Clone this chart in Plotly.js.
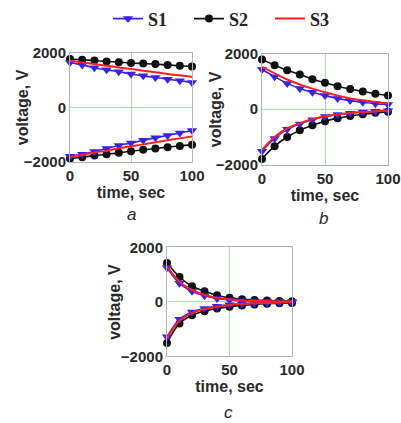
<!DOCTYPE html>
<html>
<head>
<meta charset="utf-8">
<script src="https://cdn.plot.ly/plotly-3.0.1.min.js"></script>
<style>
  html, body { margin: 0; padding: 0; background: #fff; }
  #chart { width: 401px; height: 423px; }
</style>
</head>
<body>
<div id="chart"></div>
<script>
// Sampling times, s
const time = [0, 10, 20, 30, 40, 50, 60, 70, 80, 90, 100];

// Panel a: positive and negative branches, V
const aS1Top = [1640, 1550, 1450, 1370, 1300, 1220, 1150, 1090, 1030, 970, 910];
const aS1Bot = [-1790, -1720, -1620, -1510, -1400, -1310, -1210, -1120, -1030, -940, -850];
const aS2Top = [1770, 1740, 1710, 1680, 1650, 1620, 1600, 1580, 1550, 1520, 1490];
const aS2Bot = [-1880, -1830, -1770, -1720, -1670, -1610, -1560, -1510, -1460, -1420, -1370];
const aS3Top = [1700, 1640, 1580, 1520, 1460, 1400, 1340, 1280, 1220, 1170, 1120];
const aS3Bot = [-1820, -1750, -1660, -1590, -1500, -1430, -1360, -1280, -1210, -1140, -1070];

// Panel b
const bS1Top = [1430, 1170, 930, 750, 610, 490, 390, 310, 250, 200, 170];
const bS1Bot = [-1510, -1050, -720, -530, -380, -260, -190, -140, -100, -75, -55];
const bS2Top = [1790, 1580, 1400, 1250, 1080, 950, 830, 730, 640, 560, 490];
const bS2Bot = [-1790, -1330, -1000, -760, -580, -430, -320, -240, -180, -130, -90];
const bS3Top = [1520, 1290, 1070, 890, 740, 610, 490, 390, 320, 260, 210];
const bS3Bot = [-1460, -1000, -690, -500, -360, -250, -185, -135, -100, -75, -55];

// Panel c
const cS1Top = [1250, 680, 390, 220, 120, 70, 45, 30, 20, 12, 8];
const cS1Bot = [-1280, -640, -370, -240, -160, -110, -75, -50, -35, -25, -15];
const cS2Top = [1420, 910, 570, 390, 245, 150, 100, 70, 50, 35, 25];
const cS2Bot = [-1510, -790, -490, -340, -240, -180, -130, -95, -70, -50, -40];
const cS3Top = [1300, 740, 440, 250, 140, 85, 50, 35, 25, 15, 10];
const cS3Bot = [-1330, -690, -410, -265, -175, -115, -80, -55, -40, -25, -15];

const panelLabels = ['a', 'b', 'c'];
const xTitle = 'time, sec';
const yTitle = 'voltage, V';
const tickX = [0, 50, 100];
const tickY = [-2000, 0, 2000];

const BLUE = '#3a22ee';
const BLACK = '#111111';
const RED = '#ff1f1f';
const TEXT = '#2a2a2a';

const styles = {
  S1: { mode: 'lines+markers', line: { color: BLUE, width: 1.6, shape: 'spline' },
        marker: { symbol: 'triangle-down', size: 9, color: BLUE }, rank: 1 },
  S2: { mode: 'lines+markers', line: { color: BLACK, width: 1.6, shape: 'spline' },
        marker: { symbol: 'circle', size: 8, color: BLACK }, rank: 2 },
  S3: { mode: 'lines', line: { color: RED, width: 2, shape: 'spline' }, rank: 3 }
};

const panels = [
  { ax: '', S1: [aS1Top, aS1Bot], S2: [aS2Top, aS2Bot], S3: [aS3Top, aS3Bot] },
  { ax: '2', S1: [bS1Top, bS1Bot], S2: [bS2Top, bS2Bot], S3: [bS3Top, bS3Bot] },
  { ax: '3', S1: [cS1Top, cS1Bot], S2: [cS2Top, cS2Bot], S3: [cS3Top, cS3Bot] }
];

// Draw order: S2 underneath, then S1, red S3 on top
const drawOrder = ['S2', 'S1', 'S3'];
const traces = [];
panels.forEach((p, pi) => {
  drawOrder.forEach(name => {
    p[name].forEach((vals, bi) => {
      const st = styles[name];
      const tr = {
        type: 'scatter', x: time, y: vals, name: name,
        mode: st.mode, line: st.line, cliponaxis: false,
        xaxis: 'x' + p.ax, yaxis: 'y' + p.ax,
        legendgroup: name, legendrank: st.rank,
        showlegend: pi === 0 && bi === 0, hoverinfo: 'skip'
      };
      if (st.marker) tr.marker = st.marker;
      traces.push(tr);
    });
  });
});

const W = 401, H = 423;
const SANS = 'Liberation Sans, Arial, sans-serif';
const tickFont = { family: SANS, size: 15, color: TEXT, weight: 'bold' };
const titleFont = { family: SANS, size: 16, color: TEXT, weight: 'bold' };

function xAxis(l, r) {
  return {
    domain: [l / W, r / W], range: [0, 100], tickvals: tickX, ticks: '',
    showline: true, mirror: true, linecolor: '#b4b4b4', linewidth: 1,
    showgrid: true, gridcolor: '#a8e0a8', zeroline: false,
    tickfont: tickFont, fixedrange: true,
    title: { text: xTitle, font: titleFont, standoff: 3 }
  };
}
function yAxis(t, b) {
  return {
    domain: [1 - b / H, 1 - t / H], range: [-2000, 2000], tickvals: tickY, ticks: '',
    showline: true, mirror: true, linecolor: '#b4b4b4', linewidth: 1,
    showgrid: true, gridcolor: '#a8e0a8', zeroline: false,
    tickfont: tickFont, fixedrange: true
  };
}

// Panel captions and rotated y titles placed in pixel positions
const labelFont = { family: SANS, size: 17, color: TEXT, style: 'italic' };
const labelPos = [[131, 213], [323, 217], [229, 412]];
const yTitlePos = [[22, 105], [215, 107], [115, 301]];
const annotations = [];
panelLabels.forEach((t, i) => {
  annotations.push({
    text: t, xref: 'paper', yref: 'paper',
    x: labelPos[i][0] / W, y: 1 - labelPos[i][1] / H,
    xanchor: 'center', yanchor: 'middle', showarrow: false, font: labelFont
  });
  annotations.push({
    text: yTitle, xref: 'paper', yref: 'paper', textangle: -90,
    x: yTitlePos[i][0] / W, y: 1 - yTitlePos[i][1] / H,
    xanchor: 'center', yanchor: 'middle', showarrow: false, font: titleFont
  });
});

const layout = {
  width: W, height: H,
  margin: { l: 0, r: 0, t: 0, b: 0 },
  paper_bgcolor: '#fff', plot_bgcolor: '#fff',
  showlegend: true,
  legend: {
    orientation: 'h', x: 108 / W, xanchor: 'left', y: 1 - 16 / H, yanchor: 'middle',
    font: { family: 'Liberation Serif, Times New Roman, serif', size: 18, color: '#222', weight: 'bold' },
    traceorder: 'normal', bgcolor: 'rgba(0,0,0,0)',
    entrywidth: 36, entrywidthmode: 'pixels'
  },
  xaxis: Object.assign(xAxis(70, 192), { anchor: 'y' }),
  yaxis: Object.assign(yAxis(50, 160), { anchor: 'x' }),
  xaxis2: Object.assign(xAxis(262, 388), { anchor: 'y2' }),
  yaxis2: Object.assign(yAxis(51, 163), { anchor: 'x2' }),
  xaxis3: Object.assign(xAxis(167, 292), { anchor: 'y3' }),
  yaxis3: Object.assign(yAxis(246, 356), { anchor: 'x3' }),
  annotations: annotations
};

Plotly.newPlot('chart', traces, layout, { displayModeBar: false, staticPlot: true });
</script>
</body>
</html>
